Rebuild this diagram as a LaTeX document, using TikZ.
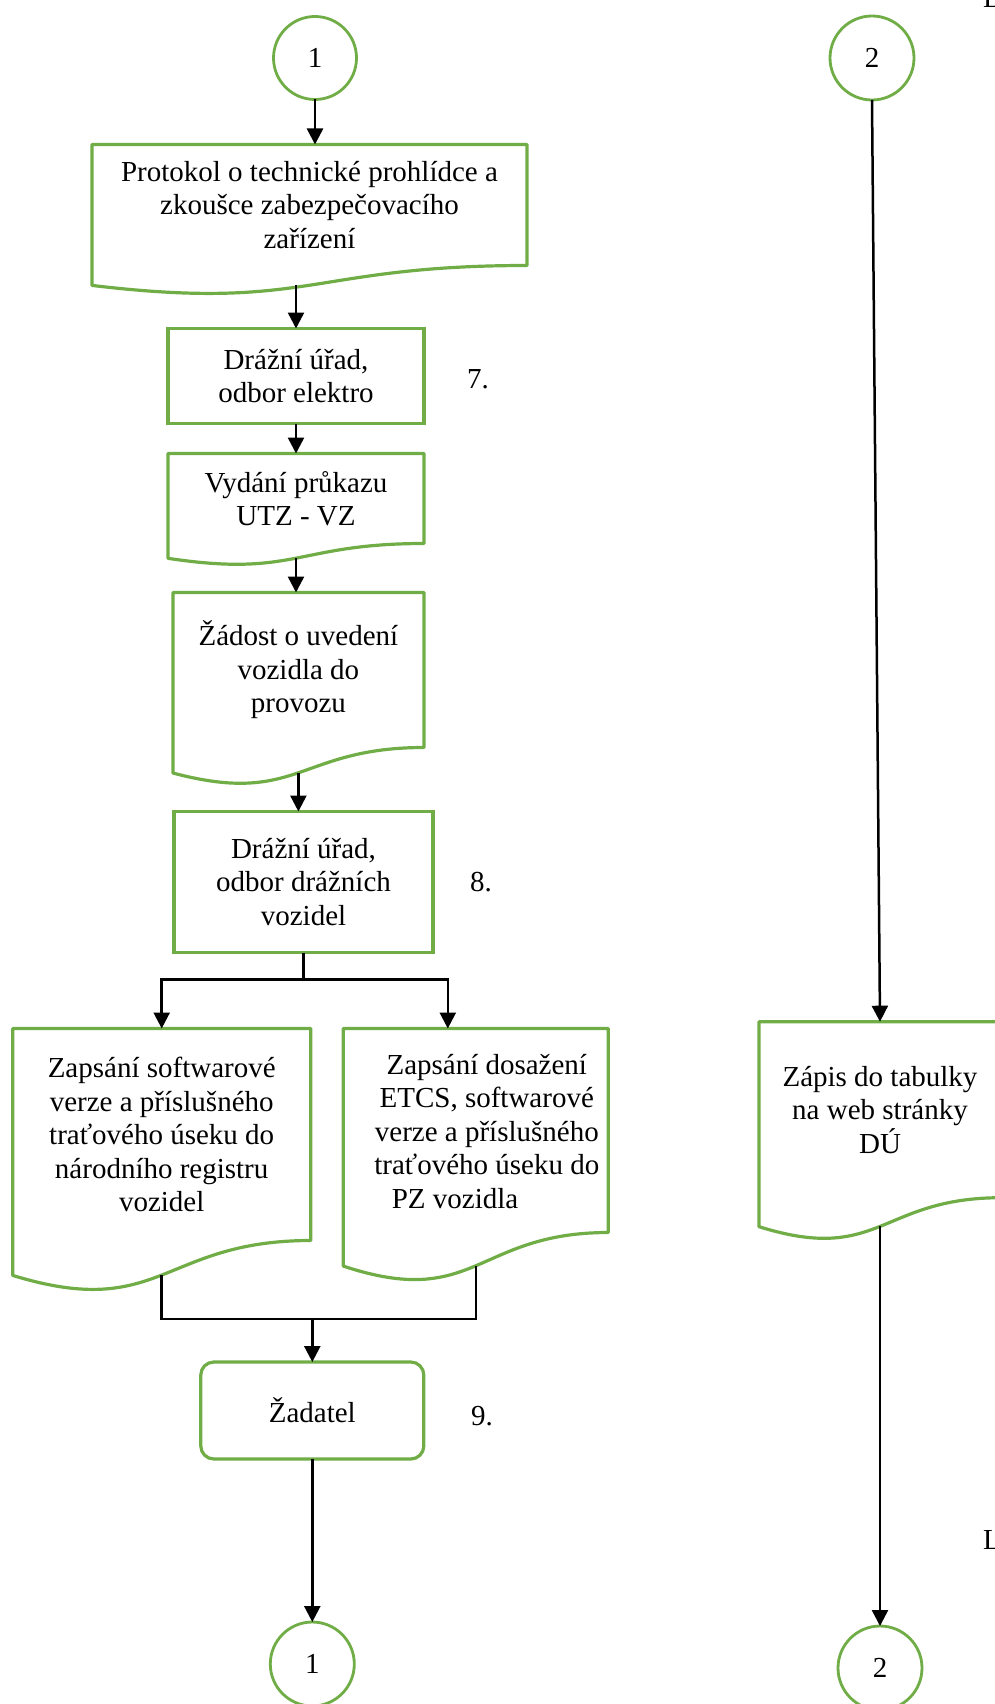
\documentclass[tikz,border=0pt]{standalone}
\usepackage{fontspec}
\setmainfont{Liberation Serif}
\usetikzlibrary{positioning,calc,arrows.meta}
\definecolor{flowgreen}{RGB}{112,173,71}
\newcommand{\boxfont}{\fontsize{29}{33.5}\selectfont}
\tikzset{
  % process box: green outline, centred text
  procbox/.style={draw=flowgreen, rectangle, line width=3.2pt, align=center,
                  font=\boxfont, inner sep=0pt, outer sep=0pt},
  % document box: outline drawn afterwards by \drawdoc
  docbox/.style={procbox, draw=none},
  docline/.style={draw=flowgreen, line width=3.2pt, line join=round},
  termbox/.style={procbox, rounded corners=13pt},
  % page connector circles
  connector/.style={circle, draw=flowgreen, line width=2.8pt, minimum size=83pt,
                    inner sep=0pt, outer sep=0pt, font=\boxfont},
  steplabel/.style={font=\boxfont, inner sep=0pt},
  % arrows
  conn/.style={draw=black, line width=2.5pt},
  flowarr/.style={conn, -{Triangle[width=16pt,length=16pt]}}
}
% wavy document outline round node #1; (#1-b) is the wave under its centre
\newcommand{\drawdoc}[1]{%
  \draw[docline] (#1.north west) -- (#1.north east) -- (#1.south east)
    .. controls (#1.south) and ($(#1.north)!1.380!(#1.south)$)
    .. ($(#1.north west)!1.1646!(#1.south west)$) -- cycle;
  \coordinate (#1-b) at ($(#1.north)!1.163!(#1.south)$);}

\begin{document}
\begin{tikzpicture}[x=1pt, y=1pt]
\useasboundingbox (0,0) rectangle (995,-1704);

% ============== Left column ==============
\node[connector] (c1top) at (315,-58) {1};
\node[docbox, below=45pt of c1top, xshift=-5.5pt, minimum width=435pt, minimum height=121pt] (prot)
  {Protokol o technické prohlídce a\\zkoušce zabezpečovacího\\zařízení};
\node[procbox, below=63pt of prot, xshift=-13.5pt, minimum width=256pt, minimum height=95pt] (elek)
  {Drážní úřad,\\odbor elektro};
\node[docbox, below=30pt of elek, minimum width=256pt, minimum height=90pt] (vyd)
  {Vydání průkazu\\UTZ - VZ};
\node[docbox, below=49pt of vyd, xshift=2.4pt, minimum width=251pt, minimum height=155pt] (zad)
  {Žádost o uvedení\\vozidla do\\provozu};
\node[procbox, below=64pt of zad, xshift=5.1pt, minimum width=259pt, minimum height=141pt] (voz)
  {Drážní úřad,\\odbor drážních\\vozidel};

\node[docbox, below=76pt of voz, xshift=-141.8pt, minimum width=298pt, minimum height=212pt] (regL)
  {Zapsání softwarové\\verze a příslušného\\traťového úseku do\\národního registru\\vozidel};
\node[docbox, right=32.6pt of regL.north east, anchor=north west, minimum width=265pt, minimum height=204pt] (regR) {};
\node[steplabel, align=center] (regRtxt) at ($(regR.center)+(11,-1)$)
  {Zapsání dosažení\\ETCS, softwarové\\verze a příslušného\\traťového úseku do\\\makebox[190pt][l]{PZ vozidla}};

\node[termbox, minimum width=223pt, minimum height=97pt] (zadatel) at (312.3,-1410.5) {Žadatel};
\node[connector, below=163pt of zadatel, minimum size=84pt] (c1bot) {1};

\drawdoc{prot}
\drawdoc{vyd}
\drawdoc{zad}
\drawdoc{regL}
\drawdoc{regR}

% step numbers
\node[steplabel, right=43pt of elek, yshift=-3pt] (n7) {7.};
\node[steplabel, right=37pt of voz] (n8) {8.};
\node[steplabel, right=47pt of zadatel, yshift=-6pt] (n9) {9.};

% ============== Right column ==============
\node[connector, minimum size=84pt] (c2top) at (872,-58) {2};
\node[docbox, minimum width=242pt, minimum height=176pt] (zap) at (880,-1109.7)
  {Zápis do tabulky\\na web stránky\\DÚ};
\drawdoc{zap}
\node[connector, minimum size=84pt] (c2bot) at (880,-1668) {2};

% cut-off letters at the right edge
\node[steplabel, anchor=base west] (cutA) at (983,-8) {L};
\node[steplabel, anchor=base west] (cutB) at (983,-1549) {L};

% ============== Connectors ==============
\draw[flowarr] (c1top.south) -- (c1top.south |- prot.north);
\draw[flowarr] (elek.north |- prot-b) -- (elek.north);
\draw[flowarr] (elek.south) -- (vyd.north);
\draw[flowarr] (vyd-b) -- (vyd-b |- zad.north);
\draw[flowarr] (zad-b) -- (zad-b |- voz.north);

% split to the two registers
\coordinate (split) at ($(voz.south)+(0,-27)$);
\coordinate (regRin) at ($(regR.north west)+(104.5,0)$);
\draw[conn] (voz.south) -- (split);
\draw[flowarr] (split) -| (regL.north);
\draw[flowarr] (split) -| (regRin);

% merge into the applicant
\coordinate (merge) at ($(zadatel.north)+(0,43)$);
\draw[conn] (regL-b) |- (merge) -| (regR-b);
\draw[flowarr] (merge) -- (zadatel.north);
\draw[flowarr] (zadatel.south) -- (c1bot.north);

\draw[flowarr] (c2top.south) -- (zap.north);
\draw[flowarr] (zap-b) -- (c2bot.north);

\end{tikzpicture}
\end{document}
